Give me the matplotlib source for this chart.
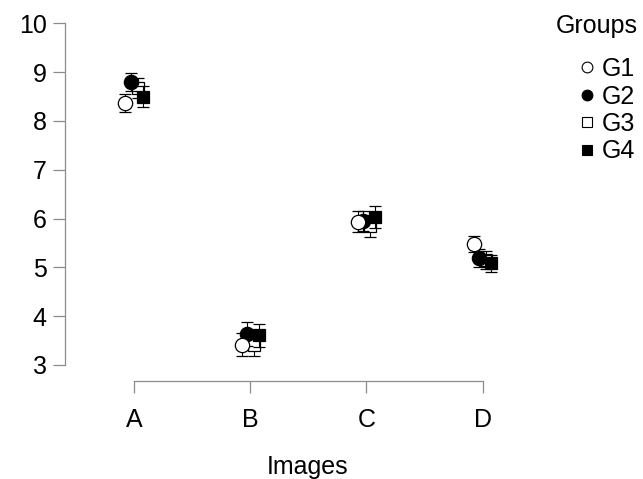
import matplotlib.pyplot as plt
import numpy as np

# Data
images = ["A", "B", "C", "D"]
groups = ["G1", "G2", "G3", "G4"]
g1_mean = [8.37, 3.42, 5.94, 5.48]
g2_mean = [8.80, 3.63, 5.95, 5.19]
g3_mean = [8.68, 3.41, 5.85, 5.15]
g4_mean = [8.50, 3.61, 6.03, 5.08]
g1_err = [0.19, 0.23, 0.21, 0.16]
g2_err = [0.19, 0.25, 0.20, 0.18]
g3_err = [0.20, 0.22, 0.22, 0.18]
g4_err = [0.22, 0.24, 0.22, 0.18]

plt.rcParams['font.family'] = ['Liberation Sans', 'DejaVu Sans']

W, H = 643, 479
fig = plt.figure(figsize=(W / 100, H / 100), dpi=100)
# plot region in pixels: left 65, right 510, top 10, bottom 381
ax = fig.add_axes([65 / W, (H - 381) / H, 445 / W, 371 / H])

x = np.arange(1, len(images) + 1)
# (mean, err, offset, marker, face, zorder)
styles = [
    (g1_mean, g1_err, -0.075, 'o', 'white', 4),
    (g2_mean, g2_err, -0.03, 'o', 'black', 3),
    (g3_mean, g3_err, 0.03, 's', 'white', 1),
    (g4_mean, g4_err, 0.075, 's', 'black', 2),
]
handles = []
for name, (m, e, off, mk, fc, z) in zip(groups, styles):
    ms = 10.3 if mk == 'o' else 9.3
    ax.errorbar(x + off, m, yerr=e, fmt=mk, ms=ms, mfc=fc, mec='black', mew=0.9,
                ecolor='black', elinewidth=0.8, capsize=4.5, capthick=1.5, zorder=z)
    h, = ax.plot([], [], mk, ms=ms * 0.75, mfc=fc, mec='black', mew=0.8, label=name)
    handles.append(h)

# axis ranges so ticks land where the original places them
px_x = 116.2
ax.set_xlim(1 - (134 - 65) / px_x, 4 + (510 - 482.7) / px_x)
px_y = 48.8
ax.set_ylim(3 - 16 / px_y, 3 + (381 - 10 - 16) / px_y)

ax.set_xticks(x)
ax.set_xticklabels(images)
ax.set_yticks(range(3, 11))

for s in ['top', 'right']:
    ax.spines[s].set_visible(False)
ax.spines['left'].set_bounds(3, 10)
ax.spines['bottom'].set_bounds(1, 4)
for s in ['left', 'bottom']:
    ax.spines[s].set_color('#8c8c8c')
    ax.spines[s].set_linewidth(0.9)
ax.tick_params(axis='both', direction='out', length=8.6, width=0.9, color='#8c8c8c',
               labelsize=18, labelcolor='black')
ax.tick_params(axis='y', pad=4.5)
ax.tick_params(axis='x', pad=10.5)

ax.set_xlabel("Images", fontsize=18)
ax.xaxis.set_label_coords((308 - 65) / 445, (381 - 467) / 371)
ax.xaxis.label.set_va('center')

fig.text(556 / W, 1 - 26 / H, "Groups", fontsize=18, ha='left', va='center')
fig.legend(handles=handles, loc='upper left', bbox_to_anchor=(579 / W, 1 - 57 / H),
           frameon=False, fontsize=18, handlelength=0.6, handletextpad=0.3,
           labelspacing=0.14, borderpad=0, borderaxespad=0)

fig.savefig("out.png", dpi=100)
